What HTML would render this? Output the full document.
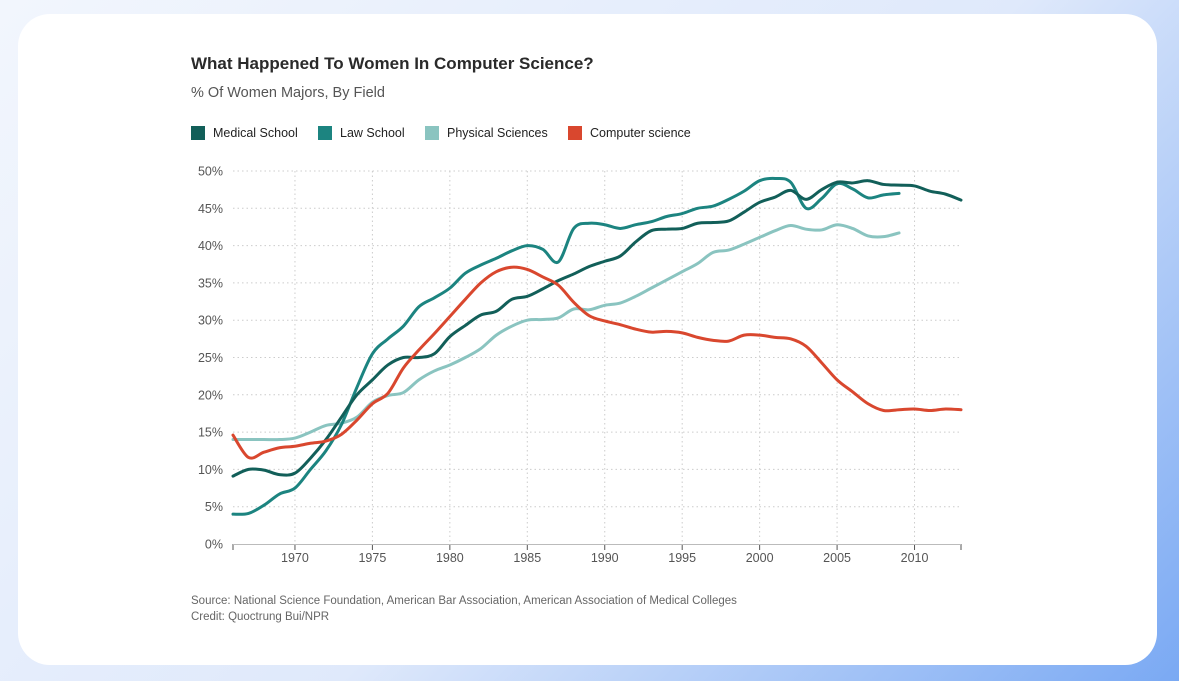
<!DOCTYPE html>
<html><head><meta charset="utf-8">
<style>
html,body{margin:0;padding:0;width:1179px;height:681px;overflow:hidden;font-family:"Liberation Sans",sans-serif;}
body{background:linear-gradient(135deg,#f2f6fd 0%,#dfe9fb 55%,#7aa9f3 100%);position:relative;}
.card{position:absolute;left:18px;top:14px;width:1139px;height:651px;background:#fff;border-radius:32px;}
.t{position:absolute;left:191px;top:54px;font-size:17px;font-weight:bold;color:#2a2a2a;}
.st{position:absolute;left:191px;top:85px;font-size:14.5px;color:#555;}
.lg{position:absolute;top:126px;font-size:12.5px;color:#222;display:flex;align-items:center;}
.lg i{display:inline-block;width:14px;height:14px;margin-right:8px;}
.src{position:absolute;left:191px;top:593px;font-size:11.5px;color:#666;line-height:16px;}
svg{position:absolute;left:0;top:0;}
</style></head><body>
<div class="card"></div>
<div class="t">What Happened To Women In Computer Science?</div>
<div class="st">% Of Women Majors, By Field</div>
<div class="lg" style="left:191px"><i style="background:#125f59"></i>Medical School</div>
<div class="lg" style="left:318px"><i style="background:#1c8480"></i>Law School</div>
<div class="lg" style="left:425px"><i style="background:#8ac4c0"></i>Physical Sciences</div>
<div class="lg" style="left:568px"><i style="background:#d9472e"></i>Computer science</div>
<div class="src">Source: National Science Foundation, American Bar Association, American Association of Medical Colleges<br>Credit: Quoctrung Bui/NPR</div>
<svg id="chart" width="1179" height="681"></svg>
<script>
const startYear = 1966;
const yTicks = [0,5,10,15,20,25,30,35,40,45,50];
const xTicks = [1970,1975,1980,1985,1990,1995,2000,2005,2010];
const medical = [9.1,10,9.9,9.3,9.5,11.5,14,17,20,22,24,25,25,25.5,27.8,29.3,30.7,31.2,32.8,33.2,34.2,35.3,36.2,37.2,37.9,38.6,40.5,42,42.2,42.3,43,43.1,43.3,44.5,45.8,46.5,47.4,46.2,47.5,48.5,48.4,48.7,48.2,48.1,48,47.3,46.9,46.1];
const law = [4,4.1,5.2,6.7,7.5,10,12.5,16,21,25.5,27.5,29.2,31.8,33,34.3,36.3,37.4,38.3,39.3,40,39.5,37.8,42.3,43,42.8,42.3,42.8,43.2,43.9,44.3,45,45.3,46.2,47.3,48.7,49,48.5,45,46.3,48.3,47.6,46.4,46.8,47];
const physical = [14,14,14,14,14.2,15,15.9,16.2,17,19,19.9,20.3,22,23.2,24,25,26.2,28,29.2,30,30.1,30.3,31.5,31.4,32,32.3,33.2,34.3,35.4,36.5,37.6,39.1,39.4,40.2,41.1,42,42.7,42.2,42.1,42.8,42.3,41.3,41.2,41.7];
const cs = [14.6,11.6,12.3,12.9,13.1,13.5,13.8,14.7,16.6,18.8,20.2,23.6,26,28.2,30.5,32.8,35,36.5,37.1,36.8,35.8,34.7,32.4,30.6,29.9,29.4,28.8,28.4,28.5,28.3,27.7,27.3,27.2,28,28,27.7,27.5,26.5,24.3,22,20.4,18.8,17.9,18,18.1,17.9,18.1,18];

const X0=233,X1=961,Y0=544,Y1=171,xMin=1966,xMax=2013;
const x=v=>X0+(v-xMin)/(xMax-xMin)*(X1-X0);
const y=v=>Y0-v/50*(Y0-Y1);
const svg=document.getElementById('chart');
const NS='http://www.w3.org/2000/svg';
function mk(tag,attrs){const e=document.createElementNS(NS,tag);for(const k in attrs)e.setAttribute(k,attrs[k]);svg.appendChild(e);return e;}
yTicks.forEach(t=>{
  if(t>0){const g=mk('line',{x1:X0,x2:X1,y1:y(t),y2:y(t),stroke:'#ccc','stroke-dasharray':'1.5,3'});
  
  }
  const l=mk('text',{x:223,y:y(t)+4.5,'text-anchor':'end','font-size':'12.5',fill:'#555','font-family':'Liberation Sans, sans-serif'});
  l.textContent=t+'%';
  
  
});
xTicks.forEach(t=>{
  const g=mk('line',{x1:x(t),x2:x(t),y1:Y1,y2:Y0,stroke:'#ccc','stroke-dasharray':'1.5,3'});
  
  
  const tk=mk('line',{x1:x(t),x2:x(t),y1:Y0,y2:Y0+6,stroke:'#555'});
  
  
  const l=mk('text',{x:x(t),y:562,'text-anchor':'middle','font-size':'12.5',fill:'#555','font-family':'Liberation Sans, sans-serif'});
  l.textContent=t;
  
  
});
[xMin,xMax].forEach(t=>{const tk=mk('line',{x1:x(t),x2:x(t),y1:Y0,y2:Y0+6,stroke:'#555'});
  
  });
const ax=mk('line',{x1:X0,x2:X1,y1:Y0+0.5,y2:Y0+0.5,stroke:'#bbb'});


function path(arr){
  const p=arr.map((v,i)=>[x(startYear+i),y(v)]);
  let d='M'+p[0][0]+','+p[0][1];
  for(let i=0;i<p.length-1;i++){
    const a=p[i-1]||p[i],b=p[i],c=p[i+1],e=p[i+2]||c;
    d+=' C'+(b[0]+(c[0]-a[0])/6)+','+(b[1]+(c[1]-a[1])/6)+' '+(c[0]-(e[0]-b[0])/6)+','+(c[1]-(e[1]-b[1])/6)+' '+c[0]+','+c[1];
  }
  return d;
}
[[physical,'#8ac4c0','line-physical-sciences'],[law,'#1c8480','line-law-school'],[medical,'#125f59','line-medical-school'],[cs,'#d9472e','line-computer-science']].forEach(s=>{
  const e=mk('path',{d:path(s[0]),fill:'none',stroke:s[1],'stroke-width':'3','stroke-linecap':'round'});
  
  
});
</script>
</body></html>
